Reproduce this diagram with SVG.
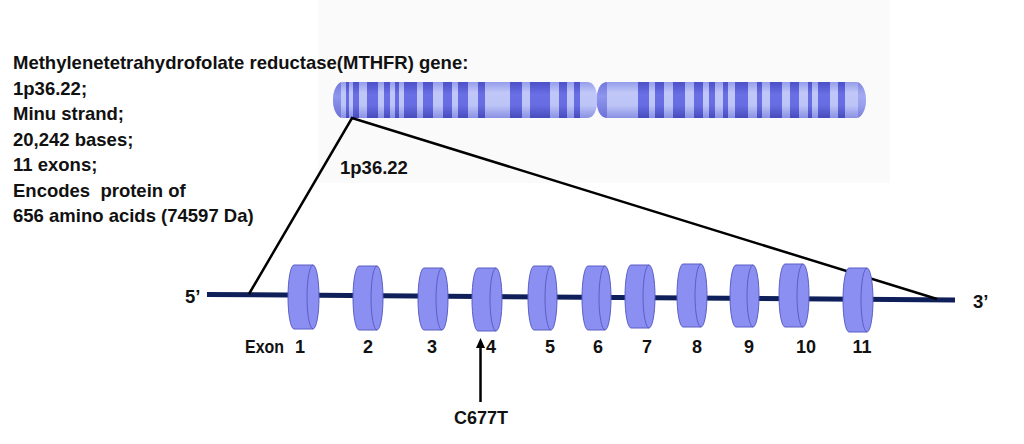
<svg xmlns="http://www.w3.org/2000/svg" width="1024" height="444" viewBox="0 0 1024 444">
  <defs>
    <linearGradient id="gLight" x1="0" y1="0" x2="0" y2="1">
      <stop offset="0" stop-color="#959deb"/>
      <stop offset="0.3" stop-color="#c1c8f8"/>
      <stop offset="0.65" stop-color="#bcc4f7"/>
      <stop offset="1" stop-color="#8a91e3"/>
    </linearGradient>
    <linearGradient id="gDark" x1="0" y1="0" x2="0" y2="1">
      <stop offset="0" stop-color="#4c51c8"/>
      <stop offset="0.35" stop-color="#6a6fe6"/>
      <stop offset="0.65" stop-color="#676ce2"/>
      <stop offset="1" stop-color="#464bbd"/>
    </linearGradient>
    <linearGradient id="gMid" x1="0" y1="0" x2="0" y2="1">
      <stop offset="0" stop-color="#7278dc"/>
      <stop offset="0.4" stop-color="#8f96ee"/>
      <stop offset="1" stop-color="#6c72d6"/>
    </linearGradient>
    <clipPath id="chromClip">
      <path d="M 343,82 H 587 Q 595,82 597,95 Q 599,82 608,82 H 856 A 10 18 0 0 1 856,118 H 608 Q 599,118 597,105 Q 595,118 587,118 H 343 A 10 18 0 0 1 343,82 Z"/>
    </clipPath>
    <style>
      .txt { font-family: "Liberation Sans", Arial, sans-serif; font-weight: bold; font-size: 18.5px; fill: #111111; }
      .lbl { font-family: "Liberation Sans", Arial, sans-serif; font-weight: bold; font-size: 18px; fill: #111111; text-anchor: middle; }
      .band { fill: url(#gDark); }
      .exon { fill: #8c8ff2; stroke: #5a5ec4; stroke-width: 1; }
      .face { fill: none; stroke: #5a5ec4; stroke-width: 1; }
      .conn { stroke: #000000; stroke-width: 2.5; fill: none; }
    </style>
  </defs>

  <rect x="318" y="0" width="572" height="183" fill="#fafafa"/>

  <g id="info-text">
    <text class="txt" x="13" y="69">Methylenetetrahydrofolate reductase(MTHFR) gene:</text>
    <text class="txt" x="13" y="94.5">1p36.22;</text>
    <text class="txt" x="13" y="120">Minu strand;</text>
    <text class="txt" x="13" y="145.5">20,242 bases;</text>
    <text class="txt" x="13" y="171">11 exons;</text>
    <text class="txt" x="13" y="196.5" xml:space="preserve">Encodes  protein of</text>
    <text class="txt" x="13" y="222">656 amino acids (74597 Da)</text>
  </g>

  <g id="chromosome">
    <g clip-path="url(#chromClip)">
      <rect x="330" y="82" width="540" height="36" fill="url(#gLight)"/>
      <rect x="330" y="82" width="11" height="36" fill="url(#gMid)"/>
      <rect x="597" y="82" width="10" height="36" fill="url(#gMid)"/>
      <rect x="858" y="82" width="12" height="36" fill="url(#gMid)" opacity="0.6"/>
      <rect class="band" x="346" y="82" width="3" height="36"/>
      <rect class="band" x="353" y="82" width="6" height="36"/>
      <rect class="band" x="367" y="82" width="11" height="36"/>
      <rect class="band" x="384" y="82" width="6" height="36"/>
      <rect class="band" x="395" y="82" width="4" height="36"/>
      <rect class="band" x="404" y="82" width="13" height="36"/>
      <rect class="band" x="423" y="82" width="10" height="36"/>
      <rect class="band" x="443" y="82" width="9" height="36"/>
      <rect class="band" x="458" y="82" width="10" height="36"/>
      <rect class="band" x="478" y="82" width="7" height="36"/>
      <rect class="band" x="510" y="82" width="12" height="36"/>
      <rect class="band" x="530" y="82" width="20" height="36"/>
      <rect class="band" x="559" y="82" width="8" height="36"/>
      <rect class="band" x="574" y="82" width="6" height="36"/>
      <rect class="band" x="638" y="82" width="11" height="36"/>
      <rect class="band" x="655" y="82" width="9" height="36"/>
      <rect class="band" x="673" y="82" width="12" height="36"/>
      <rect class="band" x="694" y="82" width="9" height="36"/>
      <rect class="band" x="709" y="82" width="6" height="36"/>
      <rect class="band" x="723" y="82" width="5" height="36"/>
      <rect class="band" x="735" y="82" width="13" height="36"/>
      <rect class="band" x="757" y="82" width="5" height="36"/>
      <rect class="band" x="770" y="82" width="12" height="36"/>
      <rect class="band" x="790" y="82" width="9" height="36"/>
      <rect class="band" x="808" y="82" width="4" height="36"/>
      <rect class="band" x="818" y="82" width="12" height="36"/>
      <rect class="band" x="838" y="82" width="7" height="36"/>
    </g>
    <text class="txt" x="340" y="174">1p36.22</text>
  </g>

  <g id="gene-line">
    <line x1="207" y1="294.5" x2="955" y2="300" stroke="#0f1f5a" stroke-width="5"/>
    <text class="txt" x="185" y="303">5’</text>
    <text class="txt" x="973" y="308">3’</text>
  </g>

  <g id="connectors">
    <polyline class="conn" points="249,294 352,118 937,299"/>
    <line class="conn" x1="480.5" y1="402" x2="480.5" y2="346"/>
    <polygon points="480.5,338 476,348 485,348" fill="#000000"/>
  </g>

  <g id="exons">
    <g id="exon1"><path class="exon" d="M 294,265 H 313 A 6 32 0 0 1 313,329 H 294 A 6 32 0 0 1 294,265 Z"/><path class="face" d="M 313,265 A 6 32 0 0 0 313,329"/></g>
    <g id="exon2"><path class="exon" d="M 359,266 H 377 A 6 32 0 0 1 377,330 H 359 A 6 32 0 0 1 359,266 Z"/><path class="face" d="M 377,266 A 6 32 0 0 0 377,330"/></g>
    <g id="exon3"><path class="exon" d="M 424,268 H 442 A 6 31 0 0 1 442,330 H 424 A 6 31 0 0 1 424,268 Z"/><path class="face" d="M 442,268 A 6 31 0 0 0 442,330"/></g>
    <g id="exon4"><path class="exon" d="M 478,268 H 496 A 6 31.5 0 0 1 496,331 H 478 A 6 31.5 0 0 1 478,268 Z"/><path class="face" d="M 496,268 A 6 31.5 0 0 0 496,331"/></g>
    <g id="exon5"><path class="exon" d="M 534,266 H 551 A 6 32 0 0 1 551,330 H 534 A 6 32 0 0 1 534,266 Z"/><path class="face" d="M 551,266 A 6 32 0 0 0 551,330"/></g>
    <g id="exon6"><path class="exon" d="M 588,266 H 605 A 6 32 0 0 1 605,330 H 588 A 6 32 0 0 1 588,266 Z"/><path class="face" d="M 605,266 A 6 32 0 0 0 605,330"/></g>
    <g id="exon7"><path class="exon" d="M 631,265 H 649 A 6 31.5 0 0 1 649,328 H 631 A 6 31.5 0 0 1 631,265 Z"/><path class="face" d="M 649,265 A 6 31.5 0 0 0 649,328"/></g>
    <g id="exon8"><path class="exon" d="M 683,264 H 701 A 6 31.5 0 0 1 701,327 H 683 A 6 31.5 0 0 1 683,264 Z"/><path class="face" d="M 701,264 A 6 31.5 0 0 0 701,327"/></g>
    <g id="exon9"><path class="exon" d="M 736,265 H 753 A 6 31 0 0 1 753,327 H 736 A 6 31 0 0 1 736,265 Z"/><path class="face" d="M 753,265 A 6 31 0 0 0 753,327"/></g>
    <g id="exon10"><path class="exon" d="M 785,264 H 803 A 6 31.5 0 0 1 803,327 H 785 A 6 31.5 0 0 1 785,264 Z"/><path class="face" d="M 803,264 A 6 31.5 0 0 0 803,327"/></g>
    <g id="exon11"><path class="exon" d="M 849,268 H 867 A 6 32 0 0 1 867,332 H 849 A 6 32 0 0 1 849,268 Z"/><path class="face" d="M 867,268 A 6 32 0 0 0 867,332"/></g>
  </g>

  <g id="exon-labels">
    <text class="txt" x="245" y="353" textLength="39" lengthAdjust="spacingAndGlyphs">Exon</text>
    <text class="lbl" x="300" y="353">1</text>
    <text class="lbl" x="368" y="353">2</text>
    <text class="lbl" x="432" y="353">3</text>
    <text class="lbl" x="491" y="353">4</text>
    <text class="lbl" x="550" y="353">5</text>
    <text class="lbl" x="598" y="353">6</text>
    <text class="lbl" x="647" y="353">7</text>
    <text class="lbl" x="697" y="353">8</text>
    <text class="lbl" x="749" y="353">9</text>
    <text class="lbl" x="806" y="353">10</text>
    <text class="lbl" x="862" y="353">11</text>
  </g>

  <g id="mutation">
    <text class="lbl" x="481" y="424">C677T</text>
  </g>
</svg>
